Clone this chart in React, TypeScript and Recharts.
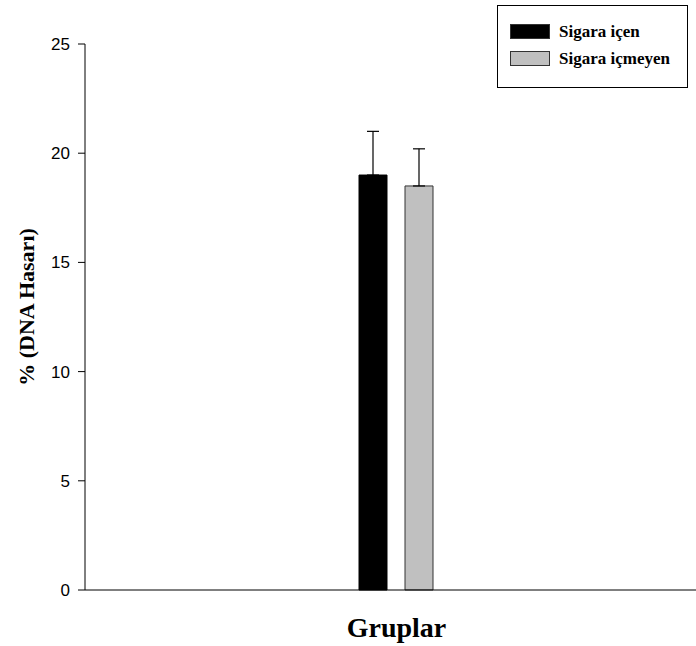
import React from 'react';
import { BarChart, Bar, XAxis, YAxis, ErrorBar, Label } from 'recharts';

const groups = ['Gruplar'];
const smokerValues = [19.0];
const smokerErrors = [2.0];
const nonSmokerValues = [18.5];
const nonSmokerErrors = [1.7];
const yTicks = [0, 5, 10, 15, 20, 25];
const seriesNames = ['Sigara içen', 'Sigara içmeyen'];
const seriesColors = ['#000000', '#c0c0c0'];

const data = groups.map((g, i) => ({
  group: g,
  smoker: smokerValues[i],
  smokerErr: [0, smokerErrors[i]],
  nonSmoker: nonSmokerValues[i],
  nonSmokerErr: [0, nonSmokerErrors[i]],
}));

const serif = '"Liberation Serif", "Times New Roman", serif';
const sans = '"Liberation Sans", Arial, sans-serif';

const LegendBox = () => (
  <div
    style={{
      position: 'absolute',
      left: 497,
      top: 5,
      width: 191,
      height: 83,
      border: '1.5px solid #000',
      background: '#fff',
      boxSizing: 'border-box',
      paddingTop: 12,
      paddingLeft: 12,
      fontFamily: serif,
      fontWeight: 'bold',
      fontSize: 17,
    }}
  >
    {seriesNames.map((n, i) => (
      <div key={n} style={{ display: 'flex', alignItems: 'center', height: 27 }}>
        <div
          style={{
            width: 40,
            height: 15,
            background: seriesColors[i],
            border: '1px solid #333',
            boxSizing: 'border-box',
            marginRight: 9,
          }}
        />
        <span>{n}</span>
      </div>
    ))}
  </div>
);

export default function App() {
  return (
    <div style={{ position: 'absolute', left: 0, top: 0, width: 696, height: 646, background: '#fff' }}>
      <BarChart
        width={696}
        height={646}
        data={data}
        margin={{ top: 44, right: 0, bottom: 0, left: 0 }}
        barSize={28}
        barGap={18}
      >
        <XAxis
          dataKey="group"
          tick={false}
          tickLine={false}
          axisLine={{ stroke: '#000', strokeWidth: 1 }}
          height={56}
          padding={{ left: 10, right: 0 }}
        >
          <Label
            content={({ viewBox }: any) => (
              <text
                x={viewBox.x + viewBox.width / 2 + 6}
                y={viewBox.y + 47}
                textAnchor="middle"
                fontFamily={serif}
                fontWeight="bold"
                fontSize={28}
                fill="#000"
              >
                Gruplar
              </text>
            )}
          />
        </XAxis>
        <YAxis
          domain={[0, 25]}
          ticks={yTicks}
          width={85}
          interval={0}
          axisLine={{ stroke: '#000', strokeWidth: 1 }}
          tickLine={{ stroke: '#000' }}
          tickSize={7}
          tickMargin={8}
          tick={{ fill: '#000', fontFamily: sans, fontSize: 17 }}
        >
          <Label
            content={() => (
              <text
                x={26}
                y={307}
                transform={`rotate(-90, 26, 307)`}
                textAnchor="middle"
                dominantBaseline="central"
                fontFamily={serif}
                fontWeight="bold"
                fontSize={22}
                fill="#000"
              >
                % (DNA Hasarı)
              </text>
            )}
          />
        </YAxis>
        <Bar dataKey="smoker" name={seriesNames[0]} fill={seriesColors[0]} stroke="#000" isAnimationActive={false}>
          <ErrorBar dataKey="smokerErr" width={6} stroke="#000" strokeWidth={1.2} direction="y" />
        </Bar>
        <Bar dataKey="nonSmoker" name={seriesNames[1]} fill={seriesColors[1]} stroke="#333" isAnimationActive={false}>
          <ErrorBar dataKey="nonSmokerErr" width={6} stroke="#000" strokeWidth={1.2} direction="y" />
        </Bar>
      </BarChart>
      <LegendBox />
    </div>
  );
}
